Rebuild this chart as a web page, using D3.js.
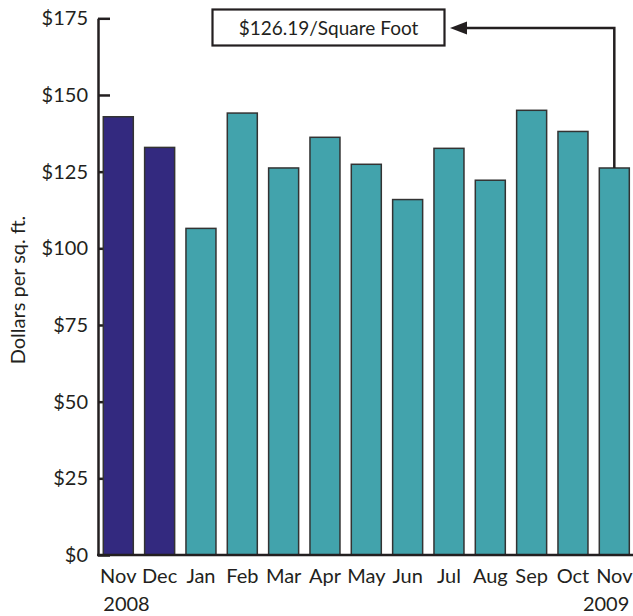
<!DOCTYPE html>
<meta charset="utf-8">
<style>
html, body { margin: 0; padding: 0; background: #fff; }
text { font-family: Lato, "Open Sans", sans-serif; fill: #231f20; }
</style>
<body>
<script src="https://d3js.org/d3.v7.min.js"></script>
<script>

var months = ["Nov", "Dec", "Jan", "Feb", "Mar", "Apr", "May", "Jun", "Jul", "Aug", "Sep", "Oct", "Nov "];
var years = ["2008", "2008", "2009", "2009", "2009", "2009", "2009", "2009", "2009", "2009", "2009", "2009", "2009"];
var prices = [142.9, 132.9, 106.5, 144.1, 126.2, 136.2, 127.4, 115.9, 132.6, 122.2, 145.0, 138.1, 126.19];
var yTicks = [0, 25, 50, 75, 100, 125, 150, 175];
var callout = "$126.19/Square Foot";

var width = 633,
    height = 616;

var svg = d3.select("body").append("svg")
    .attr("width", width)
    .attr("height", height);

var x = d3.scaleBand()
    .domain(months)
    .range([98, 634.6])
    .paddingInner(0.274)
    .paddingOuter(0.128);

var y = d3.scaleLinear()
    .domain([0, 175])
    .range([555, 18.3]);

// y axis, ticks point into the plot
var yAxis = svg.append("g")
    .attr("transform", "translate(98,0)")
    .call(d3.axisLeft(y)
      .tickValues(yTicks)
      .tickSizeInner(-12)
      .tickSizeOuter(0)
      .tickPadding(10)
      .tickFormat(function(d) { return "$" + d; }));

yAxis.select(".domain").attr("stroke", "#231f20").attr("stroke-width", 2.5);
yAxis.selectAll(".tick line").attr("stroke", "#231f20").attr("stroke-width", 2.5);
yAxis.selectAll(".tick text")
    .attr("font-family", "Lato, sans-serif")
    .attr("font-size", 20)
    .attr("fill", "#231f20");

svg.append("text")
    .attr("transform", "translate(25,290) rotate(-90)")
    .attr("text-anchor", "middle")
    .attr("font-size", 20)
    .text("Dollars per sq. ft.");

// bars
svg.append("g").selectAll("rect")
    .data(prices)
    .enter().append("rect")
    .attr("x", function(d, i) { return x(months[i]); })
    .attr("y", function(d) { return y(d); })
    .attr("width", x.bandwidth())
    .attr("height", function(d) { return y(0) - y(d); })
    .attr("fill", function(d, i) { return years[i] == "2008" ? "#33297f" : "#42a3ac"; })
    .attr("stroke", "#333")
    .attr("stroke-width", 1.5);

// x axis line
svg.append("line")
    .attr("x1", 97).attr("x2", width)
    .attr("y1", y(0)).attr("y2", y(0))
    .attr("stroke", "#231f20")
    .attr("stroke-width", 2.5);

svg.append("g").selectAll("text")
    .data(months)
    .enter().append("text")
    .attr("x", function(d) { return x(d) + x.bandwidth() / 2; })
    .attr("y", 583)
    .attr("text-anchor", "middle")
    .attr("font-size", 20)
    .text(function(d) { return d.trim(); });

var first = months[0], last = months[months.length - 1];
svg.append("text")
    .attr("x", x(first))
    .attr("y", 611)
    .attr("font-size", 20)
    .text(years[0]);
svg.append("text")
    .attr("x", x(last) + x.bandwidth())
    .attr("y", 611)
    .attr("text-anchor", "end")
    .attr("font-size", 20)
    .text(years[years.length - 1]);

// callout box + arrow from the last bar
var boxY = 28;
svg.append("rect")
    .attr("x", 212.5).attr("y", 9.5)
    .attr("width", 232).attr("height", 36)
    .attr("fill", "#fff")
    .attr("stroke", "#231f20")
    .attr("stroke-width", 2.2);

svg.append("text")
    .attr("x", 328.5)
    .attr("y", 35)
    .attr("text-anchor", "middle")
    .attr("font-size", 19)
    .text(callout);

var cx = x(last) + x.bandwidth() / 2;
svg.append("path")
    .attr("d", "M" + cx + "," + y(prices[prices.length - 1]) + "V" + boxY + "H462")
    .attr("fill", "none")
    .attr("stroke", "#231f20")
    .attr("stroke-width", 2.5);

svg.append("path")
    .attr("d", "M450," + boxY + "L467," + (boxY - 6.5) + "L467," + (boxY + 6.5) + "Z")
    .attr("fill", "#231f20");

</script>
</body>
